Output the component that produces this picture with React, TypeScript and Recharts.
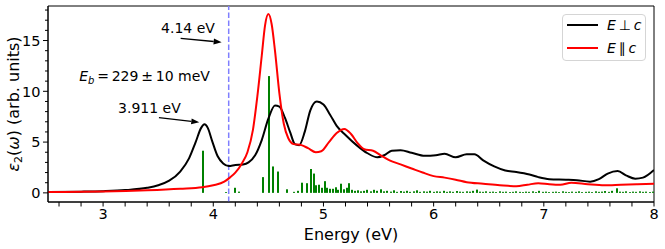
import React from "react";
import {
  ComposedChart,
  Line,
  Bar,
  XAxis,
  YAxis,
  ReferenceLine,
  ReferenceArea,
  ReferenceDot,
  Legend,
} from "recharts";

const FONT = "'DejaVu Sans', sans-serif";

// eps2 for E perpendicular to c
const perpEnergy = [
  2.5, 2.8, 3.0, 3.2, 3.4, 3.5, 3.6, 3.7, 3.78, 3.84, 3.89, 3.92, 3.95, 3.99,
  4.04, 4.09, 4.14, 4.2, 4.27, 4.32, 4.38, 4.44, 4.5, 4.56, 4.6, 4.65, 4.7,
  4.74, 4.78, 4.83, 4.88, 4.94, 5.0, 5.06, 5.12, 5.2, 5.3, 5.4, 5.49, 5.55,
  5.62, 5.7, 5.8, 5.92, 6.02, 6.1, 6.2, 6.3, 6.37, 6.45, 6.55, 6.65, 6.75,
  6.87, 6.95, 7.05, 7.2, 7.3, 7.42, 7.5, 7.58, 7.67, 7.75, 7.83, 7.9, 8.0,
];
const perpEps = [
  0.08, 0.12, 0.17, 0.27, 0.5, 0.75, 1.2, 2.1, 3.4, 5.0, 6.4, 6.75, 6.4, 5.1,
  3.6, 2.9, 2.65, 2.75, 2.8, 3.0, 3.7, 5.2, 7.3, 8.6, 8.5, 7.4, 5.9,
  4.8, 4.7, 6.0, 8.1, 9.0, 8.7, 7.7, 6.6, 5.7, 4.7, 3.9, 3.5, 3.7,
  4.15, 4.2, 3.95, 3.65, 3.7, 3.85, 3.5, 3.8, 3.8, 3.2, 2.6, 2.2, 2.05,
  1.8, 1.55, 1.35, 1.3, 1.25, 1.1, 1.35, 1.9, 2.15, 1.7, 1.4, 1.5, 2.25,
];

// eps2 for E parallel to c
const parEnergy = [
  2.5, 3.0, 3.4, 3.7, 3.9, 4.0, 4.1, 4.15, 4.2, 4.26, 4.31, 4.36, 4.4, 4.44,
  4.47, 4.5, 4.53, 4.56, 4.6, 4.64, 4.68, 4.73, 4.8, 4.86, 4.93, 4.98, 5.05,
  5.12, 5.19, 5.25, 5.31, 5.37, 5.45, 5.52, 5.6, 5.7, 5.8, 5.9, 6.0, 6.1,
  6.2, 6.3, 6.45, 6.6, 6.75, 6.85, 6.95, 7.05, 7.15, 7.25, 7.4, 7.55, 7.7,
  7.85, 8.0,
];
const parEps = [
  0.08, 0.13, 0.25, 0.4, 0.55, 0.75, 1.1, 1.5, 2.0, 2.9, 4.0, 6.2, 9.5, 13.5,
  16.5, 17.6, 16.6, 14.0, 9.8, 6.8, 5.4, 4.8, 4.7, 4.4, 4.0, 4.1, 5.0,
  5.9, 6.3, 5.8, 4.9, 4.3, 4.15, 3.7, 3.2, 2.8, 2.4, 2.0, 1.65, 1.5,
  1.3, 1.05, 0.9, 0.75, 0.65, 0.8, 0.95, 0.85, 0.8, 1.0, 0.85, 0.75, 0.8,
  0.85, 0.9,
];

// oscillator strengths
const oscEnergy = [
  3.911, 4.115, 4.2, 4.235, 4.45, 4.51, 4.545, 4.59, 4.67, 4.73, 4.77, 4.81,
  4.85, 4.885, 4.91, 4.935, 4.96, 4.985, 5.01, 5.035, 5.06, 5.085, 5.11, 5.135,
  5.16, 5.185, 5.21, 5.235, 5.26, 5.285, 5.31, 5.34, 5.37, 5.4, 5.43, 5.46,
  5.49, 5.52, 5.55, 5.58, 5.61, 5.64, 5.67, 5.7, 5.73, 5.76, 5.79, 5.82,
  5.85, 5.88, 5.91, 5.94, 5.97, 6.0, 6.03, 6.06, 6.09, 6.12, 6.15, 6.18,
  6.21, 6.24, 6.27, 6.3, 6.33, 6.36, 6.39, 6.42, 6.45, 6.48, 6.51, 6.54,
  6.57, 6.6, 6.63, 6.66, 6.69, 6.72, 6.75, 6.78, 6.81, 6.84, 6.87, 6.9,
  6.93, 6.96, 6.99, 7.02, 7.05, 7.08, 7.11, 7.14, 7.17, 7.2, 7.23, 7.26,
  7.29, 7.32, 7.35, 7.38, 7.41, 7.44, 7.47, 7.5, 7.53, 7.56, 7.59, 7.62,
  7.66, 7.69, 7.72, 7.75, 7.78, 7.81, 7.84, 7.87, 7.9, 7.93, 7.96, 7.99,
];
const oscStrength = [
  4.15, 0.08, 0.5, 0.12, 1.55, 11.5, 2.6, 2.1, 0.35, 0.1, 0.2, 1.0,
  0.95, 2.35, 1.9, 0.75, 0.8, 0.5, 1.15, 0.5, 0.4, 0.4, 0.55, 0.3,
  0.9, 0.35, 0.5, 0.95, 0.3, 0.2, 0.25, 0.15, 0.2, 0.3, 0.15, 0.3,
  0.2, 0.35, 0.15, 0.2, 0.12, 0.25, 0.1, 0.18, 0.12, 0.2, 0.1, 0.15,
  0.25, 0.1, 0.15, 0.12, 0.2, 0.1, 0.15, 0.12, 0.2, 0.1, 0.15, 0.1,
  0.18, 0.12, 0.1, 0.15, 0.12, 0.2, 0.32, 0.12, 0.1, 0.15, 0.1, 0.12,
  0.08, 0.15, 0.1, 0.12, 0.08, 0.1, 0.15, 0.1, 0.08, 0.12, 0.1, 0.15,
  0.08, 0.2, 0.1, 0.12, 0.08, 0.1, 0.12, 0.08, 0.15, 0.1, 0.08, 0.12,
  0.1, 0.15, 0.08, 0.1, 0.12, 0.08, 0.15, 0.1, 0.12, 0.18, 0.1, 0.2,
  0.45, 0.12, 0.1, 0.15, 0.08, 0.12, 0.1, 0.15, 0.1, 0.12, 0.08, 0.12,
];

const xTicks = [
  2.6, 2.8, 3.0, 3.2, 3.4, 3.6, 3.8, 4.0, 4.2, 4.4, 4.6, 4.8, 5.0, 5.2, 5.4,
  5.6, 5.8, 6.0, 6.2, 6.4, 6.6, 6.8, 7.0, 7.2, 7.4, 7.6, 7.8, 8.0,
];
const xLabels = [3, 4, 5, 6, 7, 8];
const yTicks = [0, 1, 2, 3, 4, 5, 6, 7, 8, 9, 10, 11, 12, 13, 14, 15, 16, 17, 18];
const yLabels = [0, 5, 10, 15];

const gapEnergy = 4.14;
const arrow414 = [{ x: 3.704, y: 15.22 }, { x: 4.076, y: 14.83 }];
const arrow3911 = [{ x: 3.507, y: 7.4 }, { x: 3.873, y: 6.95 }];
const ebPos = { x: 3.376, y: 10.97 };

const perpData = perpEnergy.map((e, i) => ({ e, v: perpEps[i] }));
const parData = parEnergy.map((e, i) => ({ e, v: parEps[i] }));
const oscData = oscEnergy.map((e, i) => ({ e, f: oscStrength[i] }));

const XTick = (props: any) => {
  const { x, y, payload } = props;
  const v = Math.round(payload.value * 10) / 10;
  const lab = xLabels.includes(v);
  return (
    <g>
      <line x1={x} y1={y} x2={x} y2={y + 4.5} stroke="#000" strokeWidth={1} />
      {lab && (
        <text x={x} y={y + 17} textAnchor="middle" fontSize={14.5} fontFamily={FONT} fill="#000">
          {v}
        </text>
      )}
    </g>
  );
};

const YTick = (props: any) => {
  const { x, y, payload } = props;
  const v = payload.value;
  const lab = yLabels.includes(v);
  return (
    <g>
      <line x1={x - (lab ? 5 : 3)} y1={y} x2={x} y2={y} stroke="#000" strokeWidth={1} />
      {lab && (
        <text x={x - 7.5} y={y + 5.2} textAnchor="end" fontSize={14.5} fontFamily={FONT} fill="#000">
          {v}
        </text>
      )}
    </g>
  );
};

const XLabel = (props: any) => {
  const vb = props.viewBox || { x: 48, y: 202, width: 606, height: 47 };
  return (
    <text x={vb.x + vb.width / 2} y={vb.y + 38} textAnchor="middle" fontSize={16} fontFamily={FONT} fill="#000">
      Energy (eV)
    </text>
  );
};

const YLabel = (props: any) => {
  const vb = props.viewBox || { x: 10, y: 6, width: 38, height: 196 };
  const cx = 19;
  const cy = vb.y + vb.height / 2;
  return (
    <text
      x={cx}
      y={cy}
      transform={`rotate(-90, ${cx}, ${cy})`}
      textAnchor="middle"
      fontSize={16}
      fontFamily={FONT}
      fill="#000"
    >
      <tspan fontStyle="italic">ε</tspan>
      <tspan fontSize={11} dy={3}>2</tspan>
      <tspan dy={-3}>(</tspan>
      <tspan fontStyle="italic">ω</tspan>
      <tspan>) (arb. units)</tspan>
    </text>
  );
};

// stick drawn 2px wide, snapped to whole pixels
const Stick = (props: any) => {
  const { x, y, width, height } = props;
  if (!height) return null;
  const cx = Math.round(x + width / 2);
  return <rect x={cx - 1} y={y} width={2} height={height} fill="#008000" />;
};

const arrowShape = (label: string, dx: number, dy: number) => (props: any) => {
  const { x1, y1, x2, y2 } = props;
  const ang = Math.atan2(y2 - y1, x2 - x1);
  const c = Math.cos(ang);
  const s = Math.sin(ang);
  const hl = 8;
  const hw = 3;
  const bx = x2 - hl * c;
  const by = y2 - hl * s;
  return (
    <g>
      <line x1={x1} y1={y1} x2={bx} y2={by} stroke="#000" strokeWidth={1.3} />
      <polygon
        points={`${x2},${y2} ${bx - hw * s},${by + hw * c} ${bx + hw * s},${by - hw * c}`}
        fill="#000"
      />
      <text x={x1 + dx} y={y1 + dy} textAnchor="middle" fontSize={14} fontFamily={FONT} fill="#000">
        {label}
      </text>
    </g>
  );
};

const EbText = (props: any) => (
  <text x={props.cx} y={props.cy} textAnchor="middle" fontSize={14} fontFamily={FONT} fill="#000">
    <tspan fontStyle="italic">E</tspan>
    <tspan fontStyle="italic" fontSize={10} dy={3}>b</tspan>
    <tspan dy={-3}>{"\u2009=\u2009229\u2009±\u200910 meV"}</tspan>
  </text>
);

const LegendBox = () => {
  const row = (color: string, sym: string, top: number) => (
    <div style={{ position: "absolute", left: 0, top, height: 20, width: "100%" }}>
      <div style={{ position: "absolute", left: 4, top: 9, width: 31, height: 2, background: color }} />
      <div
        style={{
          position: "absolute",
          left: 44,
          top: 1,
          fontFamily: FONT,
          fontSize: 14,
          lineHeight: "18px",
          whiteSpace: "nowrap",
          color: "#000",
        }}
      >
        <i>E</i>
        {sym}
        <i>c</i>
      </div>
    </div>
  );
  return (
    <div
      style={{
        position: "relative",
        width: 84,
        height: 47,
        boxSizing: "border-box",
        border: "1px solid #d5d5d5",
        borderRadius: 4,
        background: "rgba(255,255,255,0.8)",
      }}
    >
      {row("#000", "\u2009\u22a5\u2009", 0)}
      {row("#ff0000", "\u2009\u2225\u2009", 23)}
    </div>
  );
};

export default function App() {
  return (
    <div style={{ position: "absolute", left: 0, top: 0, width: 665, height: 249, background: "#fff" }}>
      <ComposedChart
        width={665}
        height={249}
        data={oscData}
        margin={{ top: 6, right: 11, bottom: 0, left: 10 }}
      >
        <XAxis
          dataKey="e"
          type="number"
          domain={[2.5, 8]}
          allowDataOverflow
          ticks={xTicks}
          interval={0}
          height={47}
          tickSize={0}
          tickMargin={0}
          tickLine={false}
          tick={<XTick />}
          axisLine={{ stroke: "#000" }}
          label={XLabel}
        />
        <YAxis
          type="number"
          domain={[-0.9, 18.4]}
          allowDataOverflow
          ticks={yTicks}
          interval={0}
          width={38}
          tickSize={0}
          tickMargin={0}
          tickLine={false}
          tick={<YTick />}
          axisLine={{ stroke: "#000" }}
          label={YLabel}
        />
        <Bar dataKey="f" fill="#008000" barSize={2} shape={<Stick />} isAnimationActive={false} />
        <ReferenceLine x={gapEnergy} stroke="#7f7fff" strokeWidth={1.5} strokeDasharray="5.5 2.5" />
        <Line
          data={perpData}
          dataKey="v"
          type="monotone"
          stroke="#000"
          strokeWidth={2}
          dot={false}
          isAnimationActive={false}
        />
        <Line
          data={parData}
          dataKey="v"
          type="monotone"
          stroke="#ff0000"
          strokeWidth={2}
          dot={false}
          isAnimationActive={false}
        />
        <ReferenceLine segment={arrow414} stroke="#000" shape={arrowShape("4.14 eV", 7.3, -5)} />
        <ReferenceLine segment={arrow3911} stroke="#000" shape={arrowShape("3.911 eV", -9.5, -5.2)} />
        <ReferenceDot x={ebPos.x} y={ebPos.y} r={0} shape={EbText} />
        <ReferenceArea x1={2.5} x2={8} y1={-0.9} y2={18.4} fill="none" stroke="#000" strokeWidth={1} />
        <Legend
          layout="horizontal"
          verticalAlign="middle"
          align="center"
          wrapperStyle={{ left: 562, top: 14, width: 84, height: 47 }}
          content={() => <LegendBox />}
        />
      </ComposedChart>
    </div>
  );
}
